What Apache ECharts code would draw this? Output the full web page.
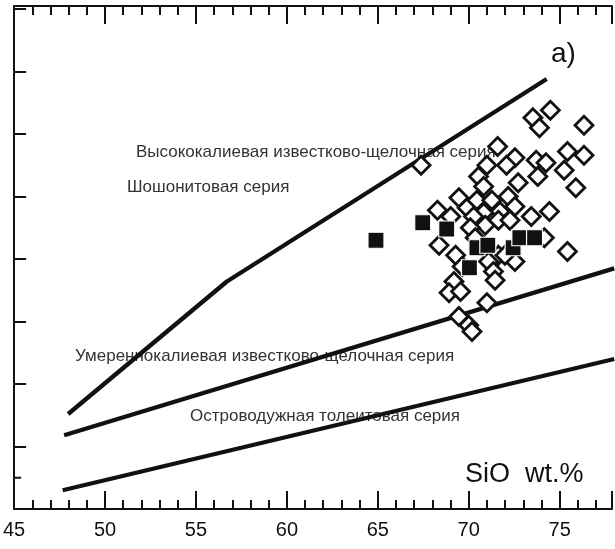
<!DOCTYPE html>
<html><head><meta charset="utf-8">
<script src="https://cdn.jsdelivr.net/npm/echarts@6/dist/echarts.min.js"></script>
<style>html,body{margin:0;padding:0;background:#fff}#c{width:615px;height:549px}</style>
</head><body><div id="c"></div>
<script>
// x tick labels
const xTicks = [45, 50, 55, 60, 65, 70, 75];
// boundary lines [SiO2, K2O]
const lineHighK = [[47.97, 0.76], [56.7, 1.82], [74.29, 3.44]];
const lineMedK = [[47.75, 0.59], [78, 1.925]];
const lineLowK = [[47.67, 0.15], [78, 1.20]];
// open diamonds
const diamonds = [
  [74.49,3.19],[73.53,3.13],[73.89,3.05],[76.34,3.07],[71.59,2.90],[67.38,2.75],
  [72.54,2.81],[72.08,2.75],[71.00,2.75],[73.71,2.79],[73.80,2.66],[75.43,2.86],
  [76.34,2.83],[74.25,2.77],[75.25,2.71],[70.54,2.66],[70.82,2.58],[72.72,2.61],
  [75.89,2.57],[69.46,2.49],[69.91,2.41],[70.45,2.47],[71.27,2.47],[72.17,2.50],
  [72.54,2.42],[71.72,2.38],[70.82,2.37],[70.27,2.34],[68.28,2.39],[69.01,2.34],
  [73.44,2.34],[74.44,2.38],[70.91,2.27],[71.63,2.31],[72.27,2.31],[70.09,2.25],
  [70.36,2.17],[74.16,2.17],[68.37,2.11],[69.28,2.03],[71.63,2.03],[72.54,1.98],
  [69.64,1.94],[71.09,1.98],[71.36,1.90],[75.43,2.06],[69.19,1.82],[71.45,1.83],
  [68.92,1.73],[69.55,1.74],[71.00,1.65],[71.99,2.03],[69.46,1.54],[70.00,1.47],
  [70.18,1.42]
];
// filled squares
const squares = [
  [64.90,2.15],[67.47,2.29],[68.79,2.24],[70.45,2.09],[71.05,2.11],
  [72.44,2.09],[72.81,2.17],[73.62,2.17],[70.04,1.93]
];
const labels = [
  {text:'Высококалиевая известково-щелочная серия', x:136, y:154},
  {text:'Шошонитовая серия', x:127, y:189},
  {text:'Умереннокалиевая известково-щелочная серия', x:75, y:358},
  {text:'Островодужная толеитовая серия', x:190, y:418}
];

const FONT = '"Liberation Sans", Arial, sans-serif';
const chart = echarts.init(document.getElementById('c'));
const lineSeries = (d) => ({type:'line', data:d, symbol:'none', z:3,
  lineStyle:{color:'#111', width:4.3, opacity:1}, silent:true});
const xBase = {type:'value', min:45, max:77.88, interval:5,
  splitLine:{show:false},
  axisLine:{lineStyle:{color:'#111', width:2}},
  axisTick:{inside:true, length:18, lineStyle:{color:'#111', width:2}},
  minorTick:{show:true, splitNumber:5, length:9, lineStyle:{color:'#111', width:2}}
};
chart.setOption({
  animation:false,
  grid:{left:10, right:0, top:6, bottom:40},
  xAxis:[
    Object.assign({}, xBase, {position:'bottom',
      axisLabel:{show:true, color:'#111', fontSize:20, fontFamily:FONT, margin:11,
        formatter:(v)=> xTicks.includes(v) ? String(v) : ''}}),
    Object.assign({}, xBase, {position:'top', axisLabel:{show:false}})
  ],
  yAxis:{type:'value', min:0, max:4.024, interval:0.5,
    splitLine:{show:false}, axisLabel:{show:false},
    axisLine:{lineStyle:{color:'#111', width:2}},
    axisTick:{inside:true, length:12, lineStyle:{color:'#111', width:2}}
  },
  graphic: labels.map(l=>({type:'text', left:l.x, top:l.y-10, z:0,
      style:{text:l.text, fill:'#333', font:'17px '+FONT}})).concat([
    {type:'text', left:465, top:461, style:{text:'SiO  wt.%', fill:'#111', font:'27px '+FONT}},
    {type:'text', left:551, top:40, style:{text:'a)', fill:'#111', font:'28px '+FONT}}
  ]),
  series:[
    lineSeries(lineHighK), lineSeries(lineMedK), lineSeries(lineLowK),
    {type:'scatter', data:diamonds, symbol:'diamond', symbolSize:18, z:4,
      itemStyle:{color:'#fff', borderColor:'#111', borderWidth:2.8, opacity:1}},
    {type:'scatter', data:squares, symbol:'rect', symbolSize:16, z:5,
      itemStyle:{color:'#111', borderColor:'#fff', borderWidth:1.2, opacity:1}}
  ]
});
// single minor tick on the y axis between 0 and 0.5
const p = chart.convertToPixel({gridIndex:0}, [45, 0.25]);
chart.setOption({graphic: chart.getOption().graphic[0].elements.concat([
  {type:'line', shape:{x1:p[0], y1:p[1], x2:p[0]+7, y2:p[1]}, style:{stroke:'#111', lineWidth:2}}
])});
</script></body></html>
